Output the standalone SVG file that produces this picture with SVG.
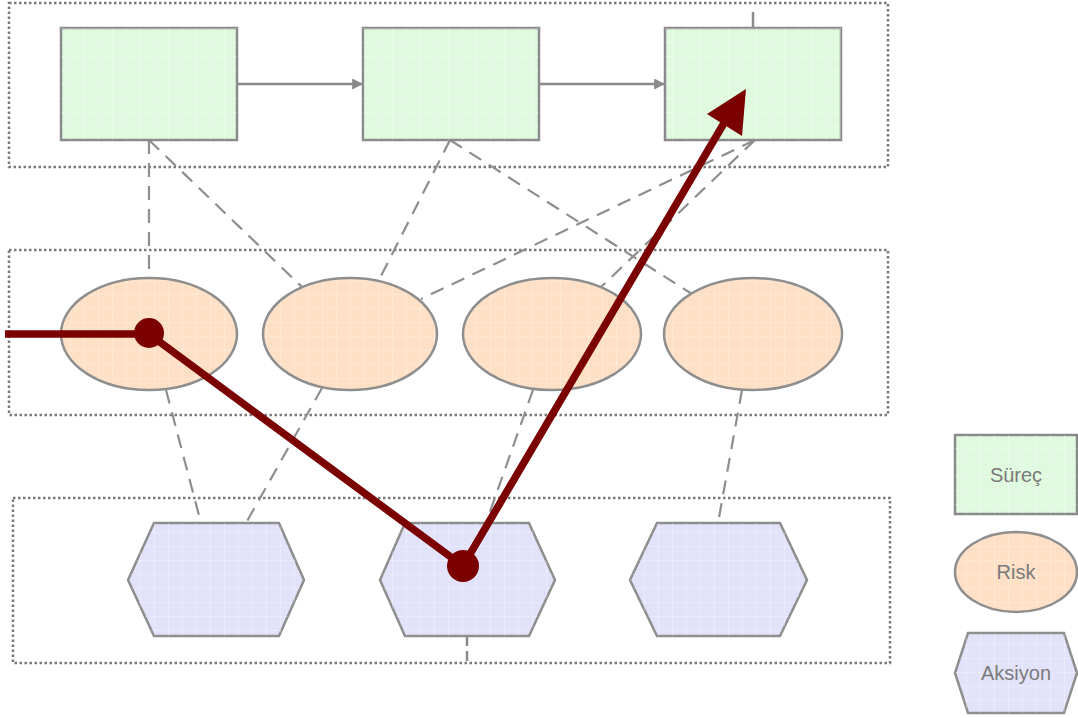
<svg xmlns="http://www.w3.org/2000/svg" width="1078" height="718" viewBox="0 0 1078 718">
<style>
.cont{fill:none;stroke:#7a7a7a;stroke-width:2.5;stroke-dasharray:2.5 2.5}
.proc{fill:#e0fadf;stroke:#8a8a8a;stroke-width:2.5}
.risk{fill:#fde0c6;stroke:#8e8e8e;stroke-width:2.5}
.act{fill:#e2e2fb;stroke:#8e8e8e;stroke-width:2.5}
.grid{stroke:none}
.dash{fill:none;stroke:#8e8e8e;stroke-width:2.2;stroke-dasharray:14 9}
.flow{fill:none;stroke:#8a8a8a;stroke-width:2.5}
.red{fill:none;stroke:#7b0000;stroke-width:7.5}
.lbl{font-family:"Liberation Sans",Arial,sans-serif;font-size:20px;fill:#7a7a7a;text-anchor:middle}
</style>
<defs>
<pattern id="g" width="14" height="14" patternUnits="userSpaceOnUse">
<path d="M0 0H14M0 0V14" stroke="#ffffff" stroke-opacity="0.45" stroke-width="1.2" fill="none"/>
</pattern>
<marker id="ah" viewBox="0 0 10 10" refX="9" refY="5" markerWidth="12" markerHeight="11" orient="auto" markerUnits="userSpaceOnUse">
<path d="M0 0L10 5L0 10z" fill="#8a8a8a"/>
</marker>
</defs>
<rect width="1078" height="718" fill="#ffffff"/>

<g id="containers">
<rect class="cont" x="9" y="3" width="879" height="164"/>
<rect class="cont" x="9" y="250" width="879" height="165"/>
<rect class="cont" x="13" y="498" width="877" height="165"/>
</g>

<g id="connectors">
<line class="flow" x1="237" y1="84" x2="362" y2="84" marker-end="url(#ah)"/>
<line class="flow" x1="539" y1="84" x2="664" y2="84" marker-end="url(#ah)"/>
<line class="flow" x1="753" y1="12" x2="753" y2="28"/>
<line class="flow" x1="467" y1="636" x2="467" y2="663" stroke-dasharray="10 5"/>
<line class="dash" x1="149" y1="140" x2="149" y2="278"/>
<line class="dash" x1="149" y1="140" x2="302" y2="287"/>
<line class="dash" x1="450" y1="140" x2="378" y2="282"/>
<line class="dash" x1="450" y1="140" x2="692" y2="294"/>
<line class="dash" x1="755" y1="140" x2="421" y2="299"/>
<line class="dash" x1="755" y1="140" x2="600" y2="288"/>
<line class="dash" x1="166" y1="390" x2="201" y2="523"/>
<line class="dash" x1="322" y1="388" x2="246" y2="523"/>
<line class="dash" x1="533" y1="390" x2="486" y2="523"/>
<line class="dash" x1="742" y1="390" x2="718" y2="523"/>
</g>

<g id="p1"><rect class="proc" x="61" y="28" width="176" height="112"/><rect class="grid" x="61" y="28" width="176" height="112" fill="url(#g)"/></g>
<g id="p2"><rect class="proc" x="363" y="28" width="176" height="112"/><rect class="grid" x="363" y="28" width="176" height="112" fill="url(#g)"/></g>
<g id="p3"><rect class="proc" x="665" y="28" width="176" height="112"/><rect class="grid" x="665" y="28" width="176" height="112" fill="url(#g)"/></g>

<g id="r1"><ellipse class="risk" cx="149" cy="334" rx="88" ry="56"/><ellipse cx="149" cy="334" rx="87" ry="55" fill="url(#g)"/></g>
<g id="r2"><ellipse class="risk" cx="350" cy="334" rx="87" ry="56"/><ellipse cx="350" cy="334" rx="86" ry="55" fill="url(#g)"/></g>
<g id="r3"><ellipse class="risk" cx="552" cy="334" rx="89" ry="56"/><ellipse cx="552" cy="334" rx="88" ry="55" fill="url(#g)"/></g>
<g id="r4"><ellipse class="risk" cx="753" cy="334" rx="89" ry="56"/><ellipse cx="753" cy="334" rx="88" ry="55" fill="url(#g)"/></g>

<g id="a1"><polygon class="act" points="154,523 279,523 304,580 279,636 154,636 128,580"/><polygon points="154,523 279,523 304,580 279,636 154,636 128,580" fill="url(#g)"/></g>
<g id="a2"><polygon class="act" points="405,523 529,523 555,580 529,636 405,636 380,580"/><polygon points="405,523 529,523 555,580 529,636 405,636 380,580" fill="url(#g)"/></g>
<g id="a3"><polygon class="act" points="657,523 780,523 807,580 780,636 657,636 630,580"/><polygon points="657,523 780,523 807,580 780,636 657,636 630,580" fill="url(#g)"/></g>

<g id="path">
<polyline class="red" points="5,334 149,334 463,566 727,118"/>
<polygon points="746,89 707,114 742,136" fill="#7b0000"/>
<circle cx="149" cy="333" r="15" fill="#7b0000"/>
<circle cx="463" cy="566" r="16" fill="#7b0000"/>
</g>

<g id="legend-surec"><rect class="proc" x="955" y="435" width="122" height="79"/><rect x="955" y="435" width="122" height="79" fill="url(#g)"/><text class="lbl" x="1016" y="482">Süreç</text></g>
<g id="legend-risk"><ellipse class="risk" cx="1016" cy="572" rx="61" ry="40"/><ellipse cx="1016" cy="572" rx="60" ry="39" fill="url(#g)"/><text class="lbl" x="1016" y="579">Risk</text></g>
<g id="legend-aksiyon"><polygon class="act" points="968,633 1064,633 1077,673 1064,713 968,713 955,673"/><polygon points="968,633 1064,633 1077,673 1064,713 968,713 955,673" fill="url(#g)"/><text class="lbl" x="1016" y="680">Aksiyon</text></g>
</svg>
